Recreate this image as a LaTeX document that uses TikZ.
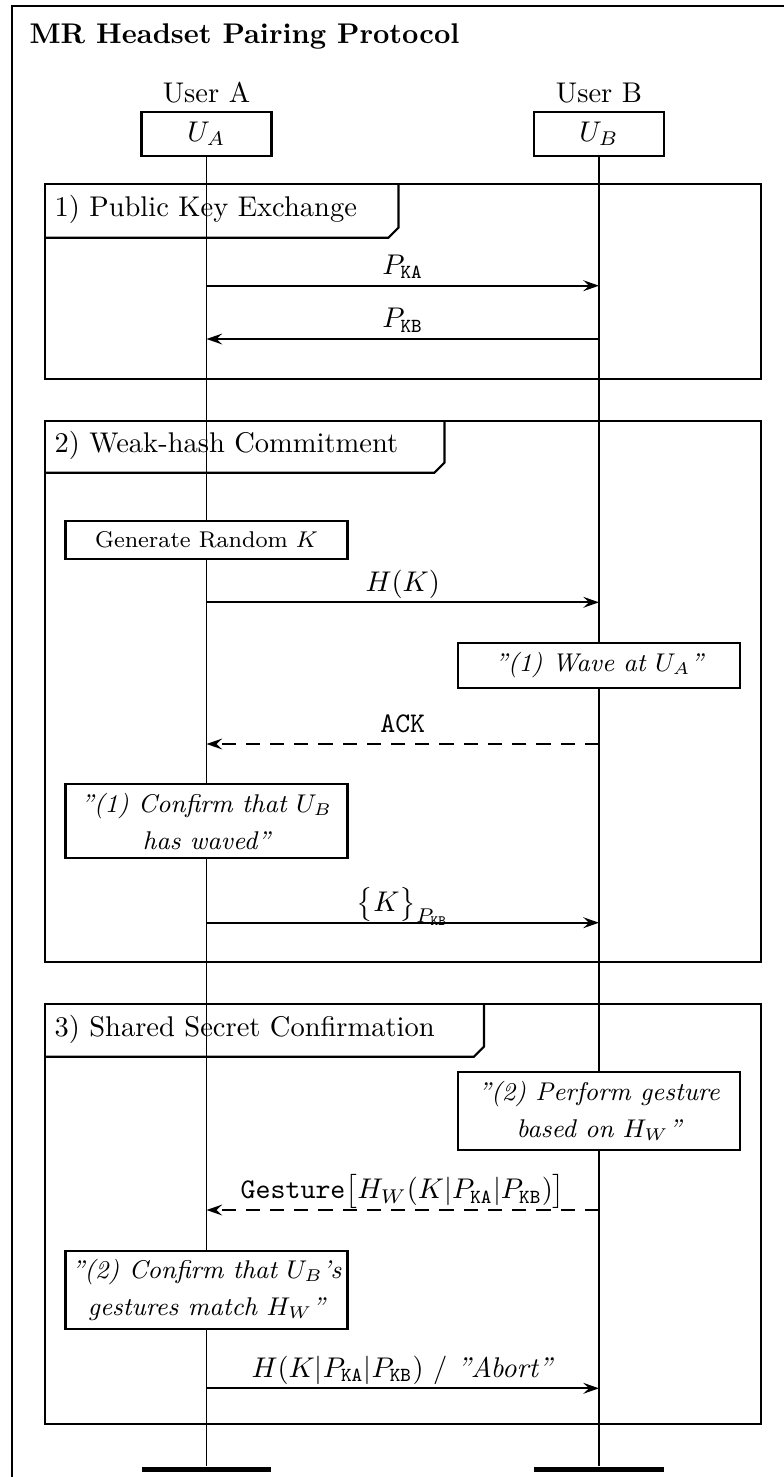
\documentclass[tikz,border=0pt]{standalone}
\usetikzlibrary{arrows.meta}
\newcommand{\myrq}{\textquotedblright}
\begin{document}
\begin{tikzpicture}[x=0.351pt,y=-0.351pt,
  every node/.style={inner sep=0pt},
  outer/.style={line width=0.85pt},
  frame/.style={line width=0.75pt},
  life/.style={line width=0.65pt},
  headbox/.style={draw,line width=0.75pt,fill=white,minimum width=45.6pt,minimum height=15.4pt},
  bar/.style={fill=black,minimum width=45.6pt,minimum height=1.8pt},
  notebox/.style={draw,line width=0.75pt,fill=white,minimum width=99pt,align=center,font=\footnotesize},
  itnote/.style={notebox,font=\small\itshape},
  msg/.style={line width=0.7pt,-{Stealth[length=5.5pt,width=3.8pt,inset=2pt]}},
  rmsg/.style={msg,dash pattern=on 5pt off 3.5pt},
  lbl/.style={anchor=base,yshift=3.9pt},
  tabtext/.style={anchor=base west}]
\useasboundingbox (0,0) rectangle (784,1477);
\clip (0,0) rectangle (784,1477);
% outer frame
\draw[outer] (12,6) rectangle (820,1520);
\node[anchor=base west,font=\bfseries] (title) at (29,43) {MR Headset Pairing Protocol};
% headers
\node[anchor=base] (la) at (206.5,102) {User A};
\node[anchor=base] (lb) at (599,102) {User B};
\node[headbox] (ua) at (206.5,134) {$U_A$};
\node[headbox] (ub) at (599,134) {$U_B$};
% frames
\draw[frame] (45,184.3) rectangle (761,379);
\draw[frame] (45,237.7) -- (388.5,237.7) -- (398.5,227.7) -- (398.5,184.3);
\node[tabtext] (t1) at (54,216.5) {1) Public Key Exchange};
\draw[frame] (45,420.7) rectangle (761,962.3);
\draw[frame] (45,472.7) -- (434.5,472.7) -- (444.5,462.7) -- (444.5,420.7);
\node[tabtext] (t2) at (54,452.5) {2) Weak-hash Commitment};
\draw[frame] (45,1004) rectangle (761,1424.3);
\draw[frame] (45,1056.7) -- (474,1056.7) -- (484,1046.7) -- (484,1004);
\node[tabtext] (t3) at (54,1036.5) {3) Shared Secret Confirmation};
% end bars and lifelines
\node[bar] (ea) at (206.5,1469.3) {};
\node[bar] (eb) at (599,1469.3) {};
\draw[life] (ua.south) -- (ea.north);
\draw[life] (ub.south) -- (eb.north);
% notes
\node[notebox,minimum height=13.5pt] (gen) at (206.5,540) {Generate Random $K$};
\node[itnote,minimum height=15.8pt] (wave) at (599,665.2) {\myrq(1) Wave at $U_A$\myrq};
\node[itnote,minimum height=26.1pt] (conf1) at (206.5,821.2) {\myrq(1) Confirm that $U_B$\\[2pt]has waved\myrq};
\node[itnote,minimum height=27.5pt] (perf) at (599,1110.8) {\myrq(2) Perform gesture\\[2pt]based on $H_W$\myrq};
\node[itnote,minimum height=27.3pt] (conf2) at (206.5,1289.8) {\myrq(2) Confirm that $U_B$'s\\[2pt]gestures match $H_W$\myrq};
% message end points
\coordinate (a1) at (206.5,285.7); \coordinate (b1) at (599,285.7);
\coordinate (a2) at (206.5,339);   \coordinate (b2) at (599,339);
\coordinate (a3) at (206.5,602.3); \coordinate (b3) at (599,602.3);
\coordinate (a4) at (206.5,744);   \coordinate (b4) at (599,744);
\coordinate (a5) at (206.5,922.7); \coordinate (b5) at (599,922.7);
\coordinate (a6) at (206.5,1210);  \coordinate (b6) at (599,1210);
\coordinate (a7) at (206.5,1388.3);\coordinate (b7) at (599,1388.3);
% messages
\draw[msg] (a1) -- node[lbl] (m1) {$P_{\mathtt{KA}}$} (b1);
\draw[msg] (b2) -- node[lbl] (m2) {$P_{\mathtt{KB}}$} (a2);
\draw[msg] (a3) -- node[lbl] (m3) {$H(K)$} (b3);
\draw[rmsg] (b4) -- node[lbl] (m4) {\texttt{ACK}} (a4);
\draw[msg] (a5) -- node[lbl] (m5) {$\bigl\{K\bigr\}_{P_{\mathtt{KB}}}$} (b5);
\draw[rmsg] (b6) -- node[lbl] (m6) {\texttt{Gesture}$\bigl[H_W(K|P_{\mathtt{KA}}|P_{\mathtt{KB}})\bigr]$} (a6);
\draw[msg] (a7) -- node[lbl] (m7) {$H(K|P_{\mathtt{KA}}|P_{\mathtt{KB}})$ / \textit{\myrq Abort\myrq}} (b7);
\end{tikzpicture}
\end{document}
